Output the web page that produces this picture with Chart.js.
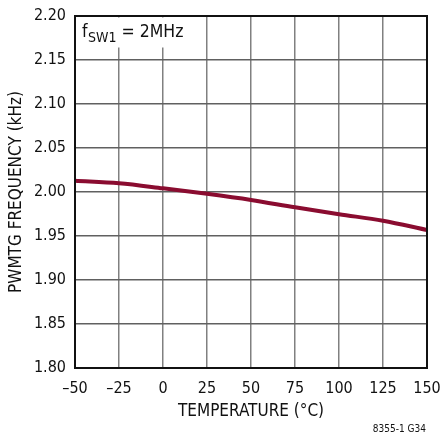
<!DOCTYPE html>
<html>
<head>
<meta charset="utf-8">
<script src="https://cdn.jsdelivr.net/npm/chart.js@4"></script>
<style>
  html, body { margin: 0; padding: 0; background: #fff; }
  #wrap { width: 440px; height: 434px; position: relative; }
</style>
</head>
<body>
<div id="wrap"><canvas id="chart"></canvas></div>
<script>
/* Temperatur längs x-axeln (°C) */
const temperatures = [-50, -25, 0, 25, 50, 75, 100, 125, 150];
/* Avläst frekvens (kHz) */
const frequency = [2.0128, 2.0099, 2.0042, 1.998, 1.991, 1.9826, 1.9747, 1.9674, 1.9568];
const xTicks = [-50, -25, 0, 25, 50, 75, 100, 125, 150];
const yTicks = [1.80, 1.85, 1.90, 1.95, 2.00, 2.05, 2.10, 2.15, 2.20];

const fontFamily = '"Liberation Sans Narrow", "DejaVu Sans Condensed", "Liberation Sans", Arial, sans-serif';

/* Etikett uppe till vänster och löpnummer nere till höger */
const notes = {
  id: 'notes',
  afterDraw(chart) {
    const { ctx, chartArea } = chart;
    ctx.save();
    ctx.fillStyle = '#fff';
    ctx.fillRect(chartArea.left + 1.5, chartArea.top + 1.5, 124, 30);
    ctx.fillStyle = '#111';
    ctx.textBaseline = 'alphabetic';
    ctx.font = '17.5px ' + fontFamily;
    let x = chartArea.left + 7;
    const y = chartArea.top + 21;
    ctx.fillText('f', x, y);
    x += ctx.measureText('f').width + 0.5;
    ctx.font = '14px ' + fontFamily;
    ctx.fillText('SW1', x, y + 5);
    x += ctx.measureText('SW1').width;
    ctx.font = '17.5px ' + fontFamily;
    ctx.fillText(' = 2MHz', x, y);
    ctx.font = '10px ' + fontFamily;
    ctx.textAlign = 'right';
    ctx.fillText('8355-1 G34', 426, 432);
    ctx.restore();
  }
};

new Chart(document.getElementById('chart'), {
  type: 'line',
  data: {
    datasets: [{
      data: temperatures.map((t, i) => ({ x: t, y: frequency[i] })),
      borderColor: '#8a0c30',
      borderWidth: 4,
      pointRadius: 0,
      tension: 0.4,
      cubicInterpolationMode: 'monotone'
    }]
  },
  options: {
    responsive: true,
    maintainAspectRatio: false,
    animation: false,
    layout: { padding: { top: 16, right: 13, left: 0, bottom: 0 } },
    plugins: { legend: { display: false }, tooltip: { enabled: false } },
    scales: {
      x: {
        type: 'linear',
        min: -50,
        max: 150,
        afterFit: (s) => { s.height = 66; s.paddingLeft = 0; s.paddingRight = 0; },
        afterBuildTicks: (s) => { s.ticks = xTicks.map((v) => ({ value: v })); },
        grid: { color: '#808080', lineWidth: 1.5, drawTicks: false },
        border: { color: '#111', width: 2 },
        ticks: {
          color: '#111',
          padding: 11,
          maxRotation: 0,
          font: { family: fontFamily, size: 16 },
          callback: (v) => String(v).replace('-', '–')
        },
        title: {
          display: true,
          text: 'TEMPERATURE (°C)',
          color: '#111',
          padding: { top: 4, bottom: 12 },
          font: { family: fontFamily, size: 17 }
        }
      },
      y: {
        min: 1.8,
        max: 2.2,
        afterFit: (s) => { s.width = 75; s.paddingTop = 0; s.paddingBottom = 0; },
        afterBuildTicks: (s) => { s.ticks = yTicks.map((v) => ({ value: v })); },
        grid: { color: '#606060', lineWidth: 1.5, drawTicks: false },
        border: { color: '#111', width: 2 },
        ticks: {
          color: '#111',
          padding: 9,
          font: { family: fontFamily, size: 16 },
          callback: (v) => v.toFixed(2)
        },
        title: {
          display: true,
          text: 'PWMTG FREQUENCY (kHz)',
          color: '#111',
          padding: { top: 6, bottom: 4 },
          font: { family: fontFamily, size: 17 }
        }
      }
    }
  },
  plugins: [notes, {
    id: 'frame',
    afterDatasetsDraw(chart) {
      const { ctx, chartArea: a } = chart;
      ctx.save();
      ctx.strokeStyle = '#111';
      ctx.lineWidth = 2;
      ctx.strokeRect(a.left, a.top, a.right - a.left, a.bottom - a.top);
      ctx.restore();
    }
  }]
});
</script>
</body>
</html>
